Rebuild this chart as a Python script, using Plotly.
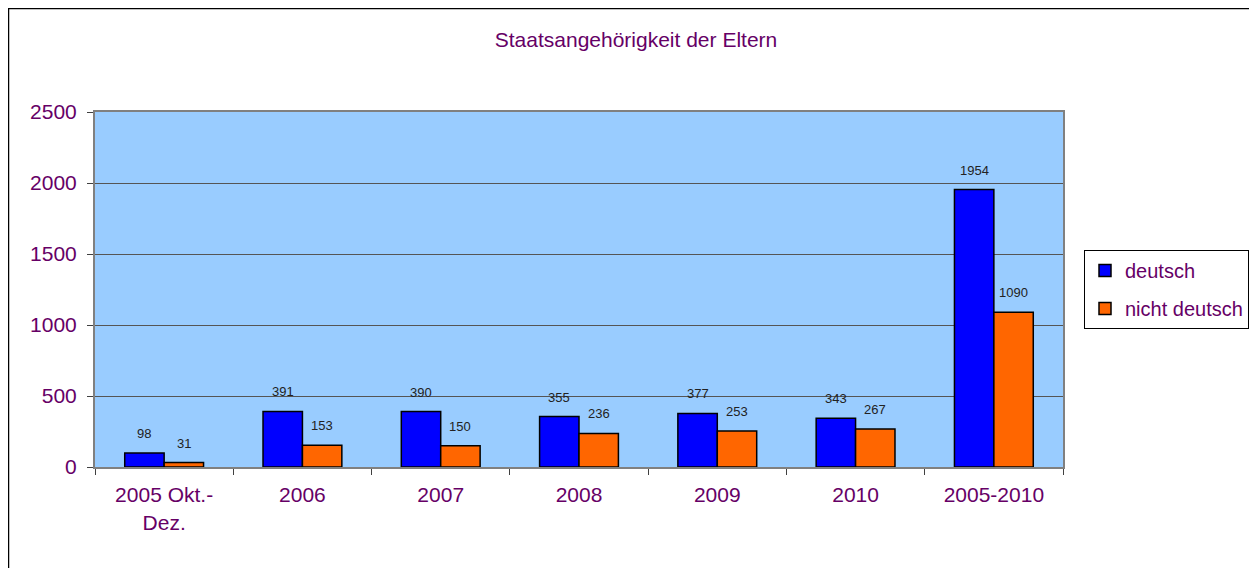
import plotly.graph_objects as go

categories = ["2005 Okt.-<br>Dez.", "2006", "2007", "2008", "2009", "2010", "2005-2010"]
deutsch = [98, 391, 390, 355, 377, 343, 1954]
nicht_deutsch = [31, 153, 150, 236, 253, 267, 1090]
y_ticks = [0, 500, 1000, 1500, 2000, 2500]

PURPLE = "#660066"
FONT = "Liberation Sans, Arial, sans-serif"

# the page has an 8px body margin, so the figure starts at (8, 8)
OFF = 8
W, H = 1257, 568
ML, MR, MT, MB = 95 - OFF, 194 + OFF, 112 - OFF, 101 + OFF
PLOT_W = W - ML - MR
PLOT_H = H - MT - MB
BARGAP = 0.43
bar_px = PLOT_W / len(categories) * (1 - BARGAP) / 2

fig = go.Figure()
fig.add_trace(go.Bar(
    name="deutsch", x=categories, y=deutsch,
    marker=dict(color="#0000FF", line=dict(color="black", width=1.5)),
    legendgroup="a",
))
fig.add_trace(go.Bar(
    name="nicht deutsch", x=categories, y=nicht_deutsch,
    marker=dict(color="#FF6600", line=dict(color="black", width=1.5)),
    legendgroup="b",
))

annotations = []
for series, shift in ((deutsch, -bar_px / 2), (nicht_deutsch, bar_px / 2)):
    for i, v in enumerate(series):
        annotations.append(dict(
            x=i, y=v, xref="x", yref="y", text=str(v), showarrow=False,
            xshift=shift, yshift=10, yanchor="bottom", xanchor="center",
            font=dict(size=13, color="#222222", family=FONT),
        ))

fig.update_layout(
    width=W, height=H,
    margin=dict(l=ML, r=MR, t=MT, b=MB),
    paper_bgcolor="white", plot_bgcolor="#99CCFF",
    barmode="group", bargap=BARGAP, bargroupgap=0,
    font=dict(family=FONT, color=PURPLE),
    title=dict(text="Staatsangehörigkeit der Eltern", xref="paper", x=(636 - 95) / PLOT_W,
               xanchor="center", y=1 - (40 - OFF) / H, yanchor="middle",
               font=dict(size=21, color=PURPLE)),
    legend=dict(x=(1084 - 95) / PLOT_W, y=(467 - 250) / PLOT_H, xanchor="left", yanchor="top",
                bordercolor="black", borderwidth=1, bgcolor="white",
                font=dict(size=20, color=PURPLE), tracegroupgap=9, itemwidth=30),
    annotations=annotations,
    showlegend=True,
)
fig.update_xaxes(
    type="category", automargin=False, tickangle=0, ticklabelstandoff=8,
    showline=True, linecolor="#808080", linewidth=2, mirror=True,
    ticks="outside", tickson="boundaries", ticklen=6, tickcolor="#404040",
    tickfont=dict(size=21, color=PURPLE), showgrid=False,
)
fig.update_yaxes(
    range=[0, 2500], tickvals=y_ticks, automargin=False, ticklabelstandoff=6,
    showline=True, linecolor="#808080", linewidth=2,
    mirror=True, ticks="outside", ticklen=6, tickcolor="#404040",
    showgrid=True, gridcolor="#555555", gridwidth=1, zeroline=False,
    tickfont=dict(size=21, color=PURPLE),
)
fig.add_shape(type="rect", xref="paper", yref="paper",
              x0=(0.5 - ML) / PLOT_W, x1=(W + 40 - ML) / PLOT_W,
              y0=(PLOT_H + MT - H - 40) / PLOT_H, y1=(PLOT_H + MT - 0.5) / PLOT_H,
              line=dict(color="black", width=1.5), fillcolor="rgba(0,0,0,0)", layer="below")

fig.write_html("out.html")
